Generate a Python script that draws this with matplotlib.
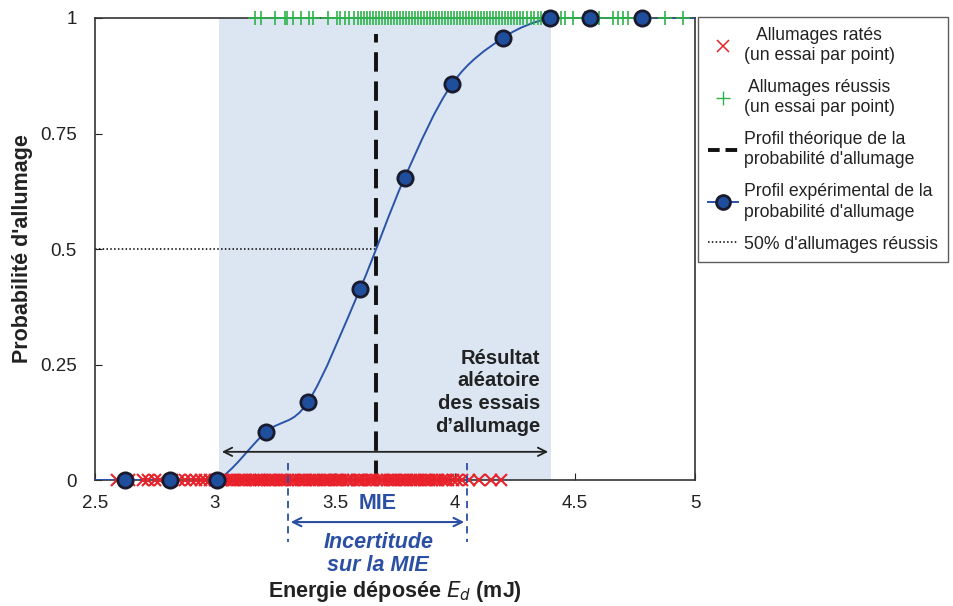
import matplotlib
matplotlib.use("Agg")
import matplotlib.pyplot as plt
from matplotlib.path import Path
from matplotlib.patches import PathPatch
from matplotlib.lines import Line2D

plt.rcParams["font.family"] = ["Liberation Sans", "DejaVu Sans"]

# failed ignitions (one trial per point), plotted at p = 0
fail_E = [2.59, 2.64, 2.70, 2.72, 2.75, 2.77, 2.82, 2.85, 2.875, 2.90, 2.92, 2.94, 2.96, 2.98,
          3.00, 3.01, 3.025, 3.03, 3.045, 3.06, 3.07, 3.08, 3.095, 3.11, 3.12, 3.13, 3.145, 3.16,
          3.17, 3.185, 3.19, 3.205, 3.22, 3.23, 3.24, 3.255, 3.27, 3.28, 3.29, 3.305, 3.32, 3.33,
          3.345, 3.36, 3.37, 3.38, 3.395, 3.41, 3.42, 3.435, 3.45, 3.46, 3.47, 3.485, 3.50, 3.51,
          3.52, 3.535, 3.55, 3.56, 3.575, 3.59, 3.60, 3.61, 3.625, 3.64, 3.65, 3.66, 3.675, 3.69,
          3.70, 3.715, 3.73, 3.74, 3.75, 3.765, 3.78, 3.79, 3.80, 3.815, 3.83, 3.84, 3.855, 3.87,
          3.88, 3.89, 3.905, 3.92, 3.93, 3.945, 3.96, 3.97, 3.99, 4.01, 4.03, 4.06, 4.10, 4.15, 4.19]

# successful ignitions, plotted at p = 1
ok_E = [3.167, 3.19, 3.25, 3.29, 3.30, 3.325, 3.36, 3.39, 3.41, 3.47, 3.51, 3.52, 3.54, 3.56, 3.58,
        3.595, 3.61, 3.62, 3.635, 3.645, 3.66, 3.67, 3.685, 3.695, 3.71, 3.72, 3.735, 3.745, 3.76,
        3.77, 3.785, 3.795, 3.81, 3.82, 3.835, 3.845, 3.86, 3.87, 3.885, 3.895, 3.91, 3.92, 3.935,
        3.945, 3.96, 3.97, 3.985, 3.995, 4.01, 4.02, 4.035, 4.045, 4.06, 4.07, 4.085, 4.095, 4.11,
        4.12, 4.135, 4.145, 4.16, 4.17, 4.185, 4.195, 4.21, 4.22, 4.235, 4.245, 4.26, 4.27, 4.285,
        4.30, 4.315, 4.33, 4.345, 4.36, 4.375, 4.39, 4.42, 4.44, 4.46, 4.49, 4.54, 4.60, 4.66,
        4.68, 4.70, 4.72, 4.79, 4.875, 4.95]

# experimental probability profile (binned)
exp_E = [2.625, 2.8125, 3.008, 3.2125, 3.3875, 3.604, 3.79, 3.9875, 4.2, 4.396, 4.5625, 4.78]
exp_p = [0.0, 0.0, 0.0, 0.104, 0.169, 0.413, 0.654, 0.857, 0.957, 1.0, 1.0, 1.0]
line_E = [2.5] + exp_E + [5.0]
line_p = [0.0] + exp_p + [1.0]

MIE = 3.671
random_zone = (3.017, 4.40)
mie_range = (3.304, 4.05)

RED = "#e8212a"
GREEN = "#2db34a"
BLUE_LINE = "#2a54a8"
BLUE_TXT = "#2b4fa3"
INK = "#222222"


def smooth_path(xs, ys):
    # excel-like smoothed line: cubic bezier through every point
    n = len(xs)
    verts = [(xs[0], ys[0])]
    codes = [Path.MOVETO]
    for i in range(n - 1):
        x0, y0 = (xs[i - 1], ys[i - 1]) if i > 0 else (xs[i], ys[i])
        x3, y3 = (xs[i + 2], ys[i + 2]) if i + 2 < n else (xs[i + 1], ys[i + 1])
        c1 = (xs[i] + (xs[i + 1] - x0) / 6, ys[i] + (ys[i + 1] - y0) / 6)
        c2 = (xs[i + 1] - (x3 - xs[i]) / 6, ys[i + 1] - (y3 - ys[i]) / 6)
        verts += [c1, c2, (xs[i + 1], ys[i + 1])]
        codes += [Path.CURVE4] * 3
    return Path(verts, codes)


fig = plt.figure(figsize=(9.54, 6.06), dpi=100)
ax = fig.add_axes([0.0996, 0.2079, 0.6289, 0.7624])

ax.axvspan(random_zone[0], random_zone[1], color="#dce6f2", zorder=0, lw=0)

ax.plot([2.5, MIE], [0.5, 0.5], color="black", ls=(0, (1, 1.5)), lw=1.1, zorder=2)
ax.plot([MIE, MIE], [0, 0.965], color="#111111", ls=(0, (5, 2.5)), lw=2.8, zorder=2)

ax.add_patch(PathPatch(smooth_path(line_E, line_p), fill=False, color=BLUE_LINE, lw=1.4, zorder=3))

ax.plot(fail_E, [0] * len(fail_E), ls="none", marker="x", color=RED, ms=8.5, mew=1.5, zorder=4, clip_on=False)
ax.plot(ok_E, [1] * len(ok_E), ls="none", marker="+", color=GREEN, ms=10, mew=1.2, zorder=4, clip_on=False)

ax.plot(exp_E, exp_p, ls="none", marker="o", ms=11, mfc="#1f4e9c", mec="#1a1a2e", mew=2,
        zorder=5, clip_on=False)

# arrow over the random zone
ax.annotate("", xy=(random_zone[0], 0.061), xytext=(random_zone[1], 0.061),
            arrowprops=dict(arrowstyle="<->", color=INK, lw=1.3, mutation_scale=15), zorder=6)
ax.text(4.355, 0.19, "Résultat\naléatoire\ndes essais\nd’allumage", ha="right", va="center",
        fontsize=14.5, fontweight="bold", color=INK, linespacing=1.25)

# uncertainty on MIE, drawn below the axis
for xv in mie_range:
    ax.plot([xv, xv], [0.037, -0.135], color=BLUE_TXT, ls=(0, (4, 3)), lw=1.3, clip_on=False, zorder=6)
ax.annotate("", xy=(mie_range[0], -0.091), xytext=(mie_range[1], -0.091),
            annotation_clip=False,
            arrowprops=dict(arrowstyle="<->", color=BLUE_TXT, lw=1.5, mutation_scale=15))
ax.text(MIE + 0.005, -0.028, "MIE", ha="center", va="top", fontsize=15.5, fontweight="bold", color=BLUE_TXT)
ax.text(3.68, -0.113, "Incertitude\nsur la MIE", ha="center", va="top", fontsize=15.5,
        fontweight="bold", fontstyle="italic", color=BLUE_TXT, linespacing=1.1)

ax.set_xlim(2.5, 5)
ax.set_ylim(0, 1)
ax.set_xticks([2.5, 3, 3.5, 4, 4.5, 5])
ax.set_xticklabels(["2.5", "3", "3.5", "4", "4.5", "5"])
ax.set_yticks([0, 0.25, 0.5, 0.75, 1])
ax.set_yticklabels(["0", "0.25", "0.5", "0.75", "1"])
ax.tick_params(direction="in", length=5, labelsize=13.5, colors=INK)
ax.tick_params(axis="x", pad=11)
ax.tick_params(axis="y", pad=13)
for sp in ax.spines.values():
    sp.set_color("#333333")
    sp.set_linewidth(1.2)

ax.set_xlabel(r"Energie déposée $\boldsymbol{E_d}$ (mJ)", fontsize=15.5, fontweight="bold",
              color=INK, labelpad=48)
ax.set_ylabel("Probabilité d'allumage", fontsize=15.5, fontweight="bold", color=INK, labelpad=5)

handles = [
    Line2D([], [], ls="none", marker="x", color=RED, ms=8, mew=1.1),
    Line2D([], [], ls="none", marker="+", color=GREEN, ms=10, mew=1.0),
    Line2D([], [], color="#111111", ls=(0, (3, 1.5)), lw=2.8),
    Line2D([], [], color=BLUE_LINE, lw=1.4, marker="o", ms=10, mfc="#1f4e9c", mec="#1a1a2e", mew=2),
    Line2D([], [], color="black", ls=(0, (1, 1.5)), lw=1.1),
]
labels = [
    "Allumages ratés\n(un essai par point)",
    "Allumages réussis\n(un essai par point)",
    "Profil théorique de la\nprobabilité d'allumage",
    "Profil expérimental de la\nprobabilité d'allumage",
    "50% d'allumages réussis",
]
leg = fig.legend(handles, labels, loc="upper left", bbox_to_anchor=(0.7317, 0.972), fontsize=12.7,
                 frameon=True, fancybox=False, edgecolor="#333333", handlelength=1.7,
                 handletextpad=0.35, borderpad=0.55, labelspacing=0.85, borderaxespad=0)
leg.get_frame().set_linewidth(1.0)
for t in leg.get_texts():
    t.set_color(INK)
    t.set_linespacing(1.25)
for t in leg.get_texts()[:2]:
    t.set_multialignment("center")

plt.savefig("out.png", dpi=100)
